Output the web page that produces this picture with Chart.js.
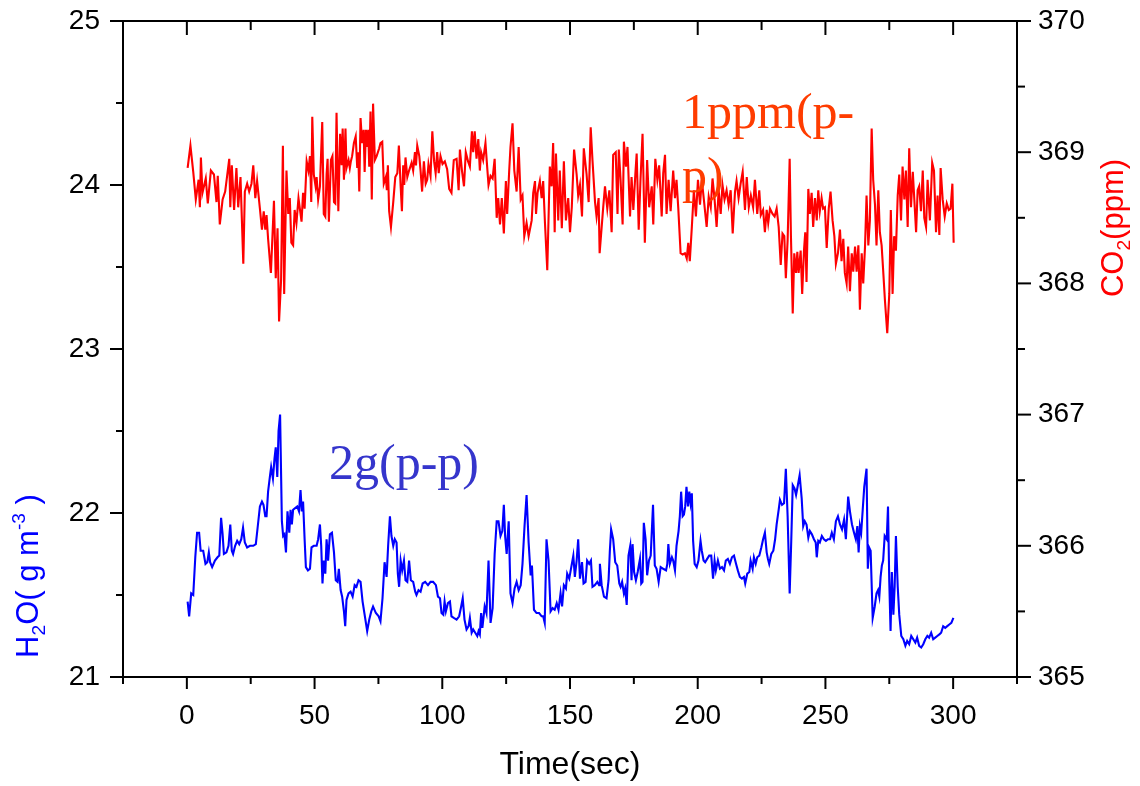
<!DOCTYPE html>
<html>
<head>
<meta charset="utf-8">
<script src="https://cdn.jsdelivr.net/npm/chart.js@4.4.1/dist/chart.umd.min.js"></script>
<style>
  body { margin: 0; background: #fff; }
  canvas { display: block; }
</style>
</head>
<body>
<canvas id="myChart" width="1140" height="786"></canvas>
<script>
// tick values
const xTicks = [0, 50, 100, 150, 200, 250, 300];
const xMinor = [-25, 25, 75, 125, 175, 225, 275, 325];
const h2oTicks = [21, 22, 23, 24, 25];
const h2oMinor = [21.5, 22.5, 23.5, 24.5];
const co2Ticks = [365, 366, 367, 368, 369, 370];
const co2Minor = [365.5, 366.5, 367.5, 368.5, 369.5];

// CO2 (ppm)
const co2Time = [
	0.3, 1.4, 2.5, 3.5, 4.6, 5.1, 5.5, 6.1, 7.4, 8.2, 9.4, 10.6, 11.6, 12.1, 12.9, 14.0, 15.0, 16.6, 17.0, 17.6,
	18.5, 19.4, 20.1, 21.0, 22.1, 22.7, 23.6, 24.4, 25.3, 26.0, 26.8, 27.5, 28.6, 29.4, 30.1, 30.7, 31.2, 31.8, 32.9, 34.1,
	34.8, 35.5, 36.1, 36.9, 37.6, 38.1, 39.0, 39.7, 40.3, 40.9, 41.6, 42.2, 42.9, 43.7, 44.9, 45.5, 46.1, 46.9, 47.6, 48.2,
	48.7, 49.1, 49.7, 50.4, 50.8, 51.4, 52.1, 53.0, 53.6, 54.2, 54.7, 55.1, 55.6, 56.4, 57.0, 57.6, 58.1, 58.6, 59.3, 60.0,
	60.6, 61.0, 61.5, 62.1, 62.5, 63.3, 63.8, 64.2, 64.7, 65.4, 66.1, 66.7, 67.1, 67.5, 68.0, 68.6, 69.2, 69.6, 70.1, 70.6,
	71.0, 71.4, 71.9, 72.4, 72.9, 73.6, 74.3, 75.3, 75.8, 76.5, 77.1, 77.9, 78.3, 78.7, 79.2, 79.9, 80.8, 81.6, 82.4, 83.0,
	83.7, 84.2, 84.7, 85.1, 85.6, 86.3, 87.0, 88.0, 88.6, 89.3, 89.7, 90.2, 91.0, 91.5, 92.1, 92.8, 93.5, 94.1, 94.6, 95.4,
	96.1, 96.8, 97.4, 98.0, 98.6, 99.3, 100.1, 101.0, 101.9, 102.7, 103.6, 104.5, 105.6, 106.4, 106.9, 107.7, 108.5, 109.2, 110.1, 110.8,
	111.6, 112.1, 112.7, 113.4, 114.1, 114.7, 115.2, 116.0, 116.9, 117.6, 118.1, 118.9, 119.7, 120.5, 121.3, 121.9, 122.6, 123.3, 124.1, 124.9,
	125.4, 126.2, 126.7, 127.5, 128.2, 129.1, 129.9, 130.7, 131.4, 132.1, 133.0, 133.8, 135.0, 135.6, 136.3, 136.7, 137.3, 138.2, 138.9, 139.5,
	140.2, 141.1, 142.1, 142.8, 143.4, 144.0, 144.5, 145.4, 146.0, 146.8, 147.6, 148.4, 149.3, 150.0, 150.7, 151.6, 152.6, 153.2, 153.9, 154.7,
	155.4, 156.5, 157.3, 158.1, 158.8, 159.8, 160.4, 161.2, 161.6, 163.0, 163.7, 164.6, 165.4, 166.3, 166.9, 167.9, 168.6, 169.1, 169.8, 170.6,
	171.1, 171.9, 172.5, 173.5, 174.1, 174.8, 175.6, 176.1, 176.9, 177.6, 178.4, 179.3, 180.2, 181.0, 182.0, 182.6, 183.4, 184.2, 184.9, 185.9,
	186.5, 187.2, 187.8, 188.6, 189.4, 190.4, 191.1, 191.7, 192.4, 193.3, 194.1, 195.0, 195.7, 196.3, 196.9, 197.7, 198.5, 199.3, 200.1, 200.9,
	201.6, 202.4, 203.5, 204.3, 205.1, 205.8, 206.6, 207.4, 208.2, 209.0, 209.7, 210.5, 211.3, 212.1, 212.9, 213.7, 214.6, 215.2, 216.0, 216.8,
	217.6, 218.5, 219.2, 220.0, 220.8, 221.7, 222.4, 223.3, 224.1, 224.7, 225.6, 226.3, 227.0, 227.6, 228.3, 229.3, 230.1, 230.9, 231.7, 232.5,
	233.2, 233.9, 234.5, 235.2, 236.0, 236.5, 237.2, 237.8, 238.5, 239.0, 239.5, 240.3, 240.9, 241.6, 242.1, 242.6, 243.3, 243.9, 244.6, 245.2,
	245.9, 246.6, 247.2, 247.8, 248.5, 249.1, 249.8, 250.5, 251.3, 252.0, 252.8, 253.5, 254.1, 254.9, 255.7, 256.3, 257.0, 257.6, 258.3, 258.9,
	259.6, 260.3, 260.9, 261.6, 262.2, 262.9, 263.5, 264.2, 264.8, 265.5, 266.1, 266.8, 267.4, 268.1, 268.7, 269.4, 270.0, 270.7, 271.3, 272.0,
	272.6, 273.3, 274.2, 275.0, 275.6, 276.3, 276.9, 277.6, 278.3, 278.9, 279.6, 280.2, 280.9, 281.5, 282.2, 282.8, 283.5, 284.2, 284.8, 285.5,
	286.1, 286.7, 287.4, 288.1, 288.7, 289.4, 290.0, 290.9, 291.8, 292.5, 293.3, 293.9, 294.6, 295.1, 295.9, 296.7, 297.5, 298.3, 299.0, 299.7,
	300.2
];
const co2Ppm = [
	368.88, 369.05, 368.85, 368.64, 368.79, 368.58, 368.96, 368.69, 368.80, 368.61, 368.86, 368.83, 368.62, 368.82, 368.45, 368.64, 368.70, 368.95, 368.58, 368.90,
	368.56, 368.88, 368.58, 368.81, 368.15, 368.70, 368.76, 368.70, 368.76, 368.90, 368.65, 368.78, 368.57, 368.41, 368.55, 368.41, 368.52, 368.34, 368.08, 368.63,
	368.04, 368.42, 367.71, 368.03, 369.05, 367.92, 368.86, 368.53, 368.65, 368.31, 368.29, 368.56, 368.46, 368.65, 368.47, 368.69, 368.57, 368.93, 368.86, 368.97,
	368.62, 369.27, 368.83, 368.74, 368.81, 368.64, 368.74, 369.23, 368.53, 368.51, 368.83, 368.95, 368.47, 368.94, 368.97, 368.62, 368.61, 369.30, 368.55, 369.14,
	368.90, 369.18, 368.79, 369.18, 368.88, 368.94, 368.88, 368.93, 368.97, 369.07, 369.12, 368.88, 369.00, 368.70, 369.26, 369.07, 369.17, 368.85, 369.17, 369.04,
	369.17, 368.89, 369.31, 368.64, 369.37, 368.94, 368.97, 369.03, 369.07, 369.08, 368.76, 368.81, 368.71, 368.90, 368.55, 368.43, 368.62, 368.81, 368.84, 369.05,
	368.74, 368.55, 368.90, 368.75, 368.96, 368.81, 368.86, 368.92, 368.86, 369.00, 368.90, 369.05, 368.97, 368.86, 368.70, 368.93, 368.76, 368.79, 368.91, 368.82,
	369.16, 368.93, 368.84, 369.00, 368.84, 368.97, 368.91, 368.93, 368.87, 368.72, 368.69, 368.94, 368.95, 368.71, 369.02, 368.86, 368.74, 369.00, 368.93, 368.89,
	369.16, 369.00, 369.16, 368.95, 369.10, 368.86, 369.00, 368.94, 369.07, 368.88, 368.75, 368.82, 368.80, 368.95, 368.50, 368.65, 368.45, 368.65, 368.38, 368.78,
	368.53, 368.86, 369.04, 369.22, 368.86, 368.70, 369.04, 368.64, 368.67, 368.36, 368.46, 368.36, 368.48, 368.69, 368.78, 368.53, 368.69, 368.78, 368.65, 368.78,
	368.46, 368.10, 368.89, 368.74, 369.07, 368.39, 368.99, 368.48, 368.86, 368.42, 368.93, 368.48, 368.65, 368.39, 368.58, 369.02, 368.83, 368.67, 368.75, 368.51,
	369.03, 368.83, 368.62, 369.19, 368.94, 368.62, 368.51, 368.65, 368.23, 368.58, 368.74, 368.57, 368.71, 368.39, 368.98, 369.00, 368.53, 369.02, 368.79, 368.45,
	369.08, 368.89, 369.04, 368.51, 368.81, 368.56, 368.84, 368.99, 368.41, 368.79, 369.14, 368.31, 368.94, 368.58, 368.74, 368.45, 368.95, 368.79, 368.90, 368.51,
	368.84, 368.98, 368.53, 368.79, 368.55, 368.86, 368.65, 368.79, 368.57, 368.23, 368.22, 368.23, 368.19, 368.31, 368.17, 368.43, 368.71, 368.51, 368.79, 368.60,
	368.79, 368.64, 368.43, 368.66, 368.58, 368.80, 368.64, 368.43, 368.71, 368.53, 368.75, 368.64, 368.71, 368.60, 368.71, 368.38, 368.70, 368.78, 368.65, 368.76,
	368.85, 368.56, 368.81, 368.58, 368.67, 368.58, 368.79, 368.53, 368.71, 368.52, 368.56, 368.39, 368.56, 368.46, 368.57, 368.53, 368.51, 368.57, 368.43, 368.14,
	368.38, 368.36, 368.04, 368.33, 368.95, 368.36, 367.77, 368.23, 368.08, 368.24, 368.08, 368.25, 367.92, 368.25, 368.39, 368.01, 368.72, 368.53, 368.69, 368.43,
	368.65, 368.48, 368.71, 368.55, 368.65, 368.57, 368.58, 368.27, 368.57, 368.70, 368.48, 368.36, 368.15, 368.23, 368.41, 368.17, 368.34, 368.08, 368.00, 368.28,
	367.94, 368.23, 368.09, 368.28, 368.09, 368.29, 367.80, 368.23, 368.00, 368.28, 368.67, 368.29, 368.48, 369.18, 368.79, 368.60, 368.29, 368.71, 368.39, 368.29,
	368.10, 367.87, 367.62, 367.92, 368.56, 367.92, 368.36, 368.25, 368.67, 368.83, 368.48, 368.89, 368.64, 368.86, 368.43, 369.03, 368.58, 368.85, 368.64, 368.39,
	368.71, 368.74, 368.55, 368.86, 368.50, 368.43, 368.79, 368.48, 368.92, 368.86, 368.39, 368.67, 368.37, 368.88, 368.64, 368.51, 368.61, 368.56, 368.57, 368.76,
	368.31
];

// H2O (g m-3)
const h2oTime = [
	0.3, 0.9, 1.7, 2.5, 3.3, 4.0, 4.8, 5.4, 6.4, 7.3, 8.0, 8.6, 9.1, 9.9, 11.0, 12.0, 12.7, 13.4, 14.0, 14.5,
	15.5, 16.3, 17.0, 17.6, 18.1, 18.9, 19.7, 20.5, 21.3, 22.0, 22.7, 23.6, 24.7, 26.0, 27.0, 27.7, 28.6, 29.4, 30.0, 30.7,
	31.2, 31.8, 32.5, 33.0, 33.7, 34.3, 34.8, 35.4, 35.9, 36.5, 37.2, 37.7, 38.2, 38.8, 39.4, 40.1, 40.6, 41.1, 41.6, 42.4,
	43.2, 43.9, 44.5, 45.0, 45.5, 46.1, 46.6, 47.4, 48.2, 48.8, 49.7, 50.8, 51.4, 52.1, 52.6, 53.1, 53.6, 54.2, 54.7, 55.3,
	56.0, 56.8, 57.6, 58.3, 59.0, 59.5, 60.2, 60.8, 61.5, 62.0, 62.5, 63.3, 64.1, 64.9, 65.7, 66.4, 67.2, 68.0, 68.8, 69.7,
	70.6, 71.4, 72.2, 72.9, 74.0, 75.1, 75.8, 76.6, 77.4, 78.2, 78.8, 79.5, 80.1, 80.8, 81.4, 82.1, 82.6, 83.1, 83.7, 84.3,
	85.0, 85.6, 86.3, 87.0, 87.7, 88.6, 89.4, 89.9, 90.7, 91.5, 92.3, 93.3, 94.4, 95.4, 96.4, 97.5, 98.3, 99.1, 99.7, 100.4,
	100.9, 101.4, 102.2, 103.0, 103.6, 104.5, 105.6, 106.6, 107.4, 108.0, 108.7, 109.5, 110.3, 110.8, 111.5, 112.1, 112.9, 113.7, 114.2, 114.7,
	115.2, 115.7, 116.6, 117.3, 118.1, 118.9, 119.7, 120.5, 121.3, 122.0, 122.8, 123.5, 124.1, 124.6, 125.2, 126.0, 126.7, 127.5, 128.3, 129.1,
	129.9, 130.7, 131.4, 132.2, 133.0, 133.8, 134.6, 135.1, 135.9, 136.9, 137.9, 138.9, 139.5, 140.1, 140.8, 141.6, 142.4, 143.2, 144.0, 144.8,
	145.5, 146.3, 146.9, 147.6, 148.4, 148.9, 149.7, 150.5, 151.3, 151.9, 152.6, 153.2, 153.9, 154.7, 155.3, 156.1, 156.7, 157.5, 158.2, 158.8,
	159.7, 160.7, 161.4, 161.7, 162.4, 163.3, 164.3, 165.1, 165.6, 166.1, 166.9, 167.7, 168.5, 169.3, 169.8, 170.4, 171.1, 171.6, 172.2, 172.9,
	173.6, 174.1, 174.5, 175.1, 175.8, 176.5, 177.4, 177.9, 178.4, 178.9, 179.6, 180.2, 180.9, 181.6, 182.5, 183.2, 183.9, 184.7, 185.5, 186.5,
	187.6, 188.1, 188.5, 189.1, 189.9, 190.4, 191.1, 191.7, 192.5, 193.0, 193.5, 194.1, 194.6, 195.1, 195.6, 196.2, 196.7, 197.2, 197.7, 198.2,
	198.8, 199.6, 200.3, 201.1, 201.6, 202.3, 202.9, 203.7, 204.5, 205.3, 206.0, 206.6, 207.1, 207.9, 208.7, 209.5, 210.3, 211.0, 211.8, 212.6,
	213.4, 214.2, 215.0, 215.7, 216.5, 217.3, 218.1, 218.6, 219.4, 220.2, 220.7, 221.5, 222.0, 222.7, 223.3, 224.1, 224.9, 225.6, 226.3, 227.0,
	227.5, 228.0, 228.8, 229.6, 230.3, 230.9, 231.7, 232.2, 233.0, 233.8, 234.5, 235.2, 236.0, 236.6, 237.2, 237.9, 238.5, 239.1, 239.9, 240.7,
	241.3, 241.9, 242.6, 243.3, 243.9, 244.7, 245.5, 246.2, 246.6, 247.2, 247.8, 248.6, 249.4, 250.2, 251.0, 251.8, 252.5, 253.3, 254.1, 254.9,
	255.7, 256.5, 257.3, 258.0, 258.9, 259.6, 260.4, 261.2, 261.9, 262.5, 263.0, 263.5, 264.0, 264.6, 265.2, 266.1, 266.6, 267.1, 267.7, 268.5,
	269.3, 270.0, 270.6, 271.1, 271.6, 272.1, 272.6, 273.2, 274.0, 274.5, 275.0, 275.5, 276.0, 276.6, 277.1, 277.6, 278.3, 278.9, 279.7, 280.5,
	281.3, 282.0, 282.8, 283.6, 284.4, 285.2, 285.9, 286.7, 287.5, 288.3, 289.1, 289.9, 290.6, 291.4, 292.2, 293.0, 293.8, 294.6, 295.3, 296.1,
	296.9, 297.7, 298.5, 299.3, 300.1
];
const h2oGm3 = [
	21.46, 21.37, 21.51, 21.50, 21.73, 21.88, 21.88, 21.77, 21.77, 21.69, 21.70, 21.76, 21.70, 21.67, 21.71, 21.73, 21.74, 21.97, 21.87, 21.75,
	21.76, 21.80, 21.93, 21.77, 21.75, 21.80, 21.83, 21.81, 21.84, 21.91, 21.82, 21.79, 21.80, 21.80, 21.81, 21.91, 22.04, 22.07, 22.05, 21.98,
	21.98, 22.13, 22.22, 22.28, 22.21, 22.33, 22.40, 22.22, 22.50, 22.60, 21.95, 21.86, 21.87, 21.76, 22.01, 21.88, 22.02, 21.93, 22.02, 22.03,
	22.04, 22.01, 22.14, 22.01, 22.07, 21.84, 21.67, 21.65, 21.66, 21.79, 21.80, 21.80, 21.84, 21.93, 21.80, 21.57, 21.71, 21.63, 21.84, 21.71,
	21.87, 21.88, 21.76, 21.59, 21.58, 21.66, 21.53, 21.49, 21.40, 21.31, 21.47, 21.51, 21.52, 21.49, 21.56, 21.55, 21.59, 21.58, 21.46, 21.37,
	21.28, 21.35, 21.40, 21.43, 21.39, 21.37, 21.34, 21.48, 21.70, 21.61, 21.80, 21.98, 21.86, 21.80, 21.84, 21.82, 21.63, 21.55, 21.71, 21.65,
	21.71, 21.59, 21.58, 21.71, 21.59, 21.58, 21.52, 21.50, 21.53, 21.52, 21.57, 21.58, 21.56, 21.58, 21.58, 21.56, 21.49, 21.48, 21.39, 21.38,
	21.46, 21.40, 21.45, 21.46, 21.37, 21.36, 21.35, 21.37, 21.43, 21.48, 21.35, 21.29, 21.31, 21.36, 21.27, 21.29, 21.27, 21.25, 21.28, 21.26,
	21.39, 21.30, 21.43, 21.39, 21.71, 21.33, 21.42, 21.75, 21.95, 21.95, 21.86, 21.89, 22.05, 21.86, 21.75, 21.95, 21.51, 21.45, 21.54, 21.58,
	21.53, 21.56, 21.69, 21.92, 22.11, 21.82, 21.62, 21.68, 21.41, 21.39, 21.39, 21.37, 21.37, 21.33, 21.84, 21.71, 21.40, 21.42, 21.41, 21.45,
	21.41, 21.51, 21.43, 21.56, 21.54, 21.63, 21.60, 21.67, 21.74, 21.61, 21.71, 21.84, 21.60, 21.70, 21.57, 21.58, 21.71, 21.69, 21.71, 21.55,
	21.56, 21.58, 21.56, 21.69, 21.56, 21.49, 21.48, 21.59, 21.77, 21.90, 21.84, 21.70, 21.68, 21.57, 21.55, 21.58, 21.51, 21.54, 21.44, 21.74,
	21.80, 21.59, 21.81, 21.64, 21.59, 21.64, 21.72, 21.57, 21.58, 21.94, 21.84, 21.62, 21.71, 21.74, 22.05, 21.68, 21.66, 21.58, 21.67, 21.66,
	21.65, 21.69, 21.81, 21.69, 21.73, 21.71, 21.65, 21.80, 21.89, 21.98, 22.13, 21.98, 21.99, 22.04, 22.16, 22.04, 22.13, 22.06, 22.12, 21.83,
	21.69, 21.67, 21.71, 21.83, 21.77, 21.71, 21.70, 21.72, 21.74, 21.74, 21.60, 21.71, 21.65, 21.71, 21.66, 21.67, 21.65, 21.71, 21.72, 21.69,
	21.73, 21.74, 21.69, 21.65, 21.61, 21.60, 21.61, 21.57, 21.63, 21.64, 21.71, 21.66, 21.73, 21.69, 21.73, 21.74, 21.79, 21.84, 21.88, 21.76,
	21.72, 21.69, 21.75, 21.77, 21.84, 21.93, 22.02, 22.08, 22.05, 22.06, 22.27, 21.98, 21.51, 21.82, 22.17, 22.15, 22.11, 22.16, 22.23, 22.09,
	21.92, 21.95, 21.93, 21.85, 21.89, 21.87, 21.84, 21.82, 21.73, 21.83, 21.82, 21.86, 21.84, 21.83, 21.84, 21.84, 21.88, 21.84, 21.95, 21.98,
	21.93, 21.90, 21.96, 21.84, 22.10, 22.01, 21.93, 21.88, 21.84, 21.92, 21.76, 21.92, 21.88, 22.02, 22.16, 22.27, 21.66, 21.79, 21.77, 21.36,
	21.43, 21.51, 21.53, 21.49, 21.61, 21.68, 21.71, 21.86, 21.84, 22.04, 21.58, 21.28, 21.64, 21.38, 21.55, 21.86, 21.55, 21.38, 21.25, 21.23,
	21.19, 21.22, 21.20, 21.25, 21.23, 21.21, 21.24, 21.19, 21.18, 21.20, 21.23, 21.25, 21.24, 21.27, 21.23, 21.24, 21.25, 21.26, 21.27, 21.31,
	21.30, 21.31, 21.32, 21.33, 21.36
];

const co2Points = co2Time.map((t, i) => ({ x: t, y: co2Ppm[i] }));
const h2oPoints = h2oTime.map((t, i) => ({ x: t, y: h2oGm3[i] }));

const tickFont = { family: '"Liberation Sans", Arial, sans-serif', size: 28 };

// draws a run of text pieces, some set as sub- or superscript
function drawPieces(ctx, pieces, size, family) {
	let total = 0;
	pieces.forEach(p => {
		ctx.font = (p.s ? size * 0.62 : size) + 'px ' + family;
		p.w = ctx.measureText(p.t).width;
		total += p.w;
	});
	let x = -total / 2;
	pieces.forEach(p => {
		ctx.font = (p.s ? size * 0.62 : size) + 'px ' + family;
		let dy = 0;
		if (p.s === 'sub') dy = size * 0.22;
		if (p.s === 'sup') dy = -size * 0.42;
		ctx.fillText(p.t, x, dy);
		x += p.w;
	});
}

// no extra room for half tick labels, the frame sits at fixed edges
const noPad = s => {
	s.paddingTop = 0;
	s.paddingBottom = 0;
	s.paddingLeft = 0;
	s.paddingRight = 0;
};

const framePlugin = {
	id: 'frame',
	afterDatasetsDraw(chart) {
		const { ctx } = chart;
		ctx.save();
		ctx.textAlign = 'left';
		ctx.textBaseline = 'alphabetic';
		ctx.font = '50px "Liberation Serif", "Times New Roman", serif';
		ctx.fillStyle = '#ff3c00';
		ctx.fillText('1ppm(p-', 682, 128);
		ctx.fillText('p)', 682, 192);
		ctx.fillStyle = '#3535cc';
		ctx.fillText('2g(p-p)', 329, 479);
		ctx.restore();
	},
	afterDraw(chart) {
		const { ctx, chartArea: a, scales } = chart;
		const line = (x1, y1, x2, y2) => {
			ctx.beginPath();
			ctx.moveTo(x1, y1);
			ctx.lineTo(x2, y2);
			ctx.stroke();
		};
		ctx.save();
		ctx.strokeStyle = '#000';
		ctx.lineWidth = 2;
		ctx.strokeRect(a.left, a.top, a.right - a.left, a.bottom - a.top);

		xTicks.forEach(v => {
			const px = scales.x.getPixelForValue(v);
			line(px, a.bottom, px, a.bottom + 12);
			line(px, a.top, px, a.top + 14);
		});
		xMinor.forEach(v => {
			const px = scales.x.getPixelForValue(v);
			line(px, a.bottom, px, a.bottom + 7);
			line(px, a.top, px, a.top + 9);
		});
		h2oTicks.forEach(v => {
			const py = scales.yH2O.getPixelForValue(v);
			line(a.left - 13, py, a.left, py);
		});
		h2oMinor.forEach(v => {
			const py = scales.yH2O.getPixelForValue(v);
			line(a.left - 7, py, a.left, py);
		});
		co2Ticks.forEach(v => {
			const py = scales.yCO2.getPixelForValue(v);
			line(a.right, py, a.right + 14, py);
		});
		co2Minor.forEach(v => {
			const py = scales.yCO2.getPixelForValue(v);
			line(a.right, py, a.right + 8, py);
		});

		// axis titles
		const fam = '"Liberation Sans", Arial, sans-serif';
		ctx.textBaseline = 'alphabetic';
		ctx.textAlign = 'left';

		ctx.fillStyle = '#000';
		ctx.save();
		ctx.translate((a.left + a.right) / 2, 774);
		drawPieces(ctx, [{ t: 'Time(sec)' }], 32, fam);
		ctx.restore();

		ctx.fillStyle = '#0000ff';
		ctx.save();
		ctx.translate(38, 576);
		ctx.rotate(-Math.PI / 2);
		drawPieces(ctx, [
			{ t: 'H' }, { t: '2', s: 'sub' }, { t: 'O( g m' }, { t: '-3', s: 'sup' }, { t: ' )' }
		], 31, fam);
		ctx.restore();

		ctx.fillStyle = '#ff0000';
		ctx.save();
		ctx.translate(1123, 228);
		ctx.rotate(-Math.PI / 2);
		drawPieces(ctx, [{ t: 'CO' }, { t: '2', s: 'sub' }, { t: '(ppm)' }], 31, fam);
		ctx.restore();

		ctx.restore();
	}
};

const ctx = document.getElementById('myChart');

const myChart = new Chart(ctx, {
	type: 'scatter',
	data: {
		datasets: [{
			label: 'CO2',
			data: co2Points,
			yAxisID: 'yCO2',
			showLine: true,
			borderColor: '#ff0000',
			borderWidth: 2.1,
			pointRadius: 0,
			tension: 0
		}, {
			label: 'H2O',
			data: h2oPoints,
			yAxisID: 'yH2O',
			showLine: true,
			borderColor: '#0000ff',
			borderWidth: 2.1,
			pointRadius: 0,
			tension: 0
		}]
	},
	options: {
		responsive: false,
		animation: false,
		devicePixelRatio: 1,
		layout: { padding: { top: 21, left: 0, right: 0, bottom: 0 } },
		plugins: {
			legend: { display: false },
			tooltip: { enabled: false }
		},
		scales: {
			x: {
				type: 'linear',
				position: 'bottom',
				min: -25,
				max: 325,
				afterBuildTicks: s => { s.ticks = xTicks.map(v => ({ value: v })); },
				afterFit: s => { noPad(s); s.height = 109; },
				grid: { display: false, drawTicks: false },
				border: { display: false },
				ticks: { font: tickFont, color: '#000', padding: 22, maxRotation: 0 }
			},
			yH2O: {
				type: 'linear',
				position: 'left',
				min: 21,
				max: 25,
				afterBuildTicks: s => { s.ticks = h2oTicks.map(v => ({ value: v })); },
				afterFit: s => { noPad(s); s.width = 123; },
				grid: { display: false, drawTicks: false },
				border: { display: false },
				ticks: { font: tickFont, color: '#000', padding: 23 }
			},
			yCO2: {
				type: 'linear',
				position: 'right',
				min: 365,
				max: 370,
				afterBuildTicks: s => { s.ticks = co2Ticks.map(v => ({ value: v })); },
				afterFit: s => { noPad(s); s.width = 123; },
				grid: { display: false, drawTicks: false },
				border: { display: false },
				ticks: { font: tickFont, color: '#000', padding: 21 }
			}
		}
	},
	plugins: [framePlugin]
});
</script>
</body>
</html>
